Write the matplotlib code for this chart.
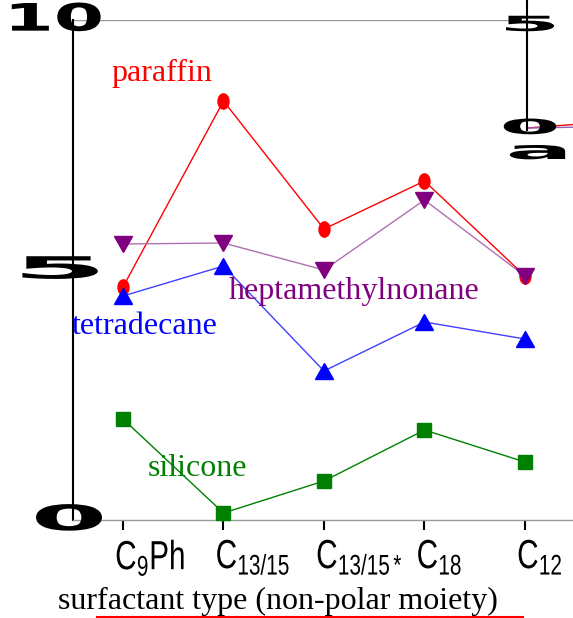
import matplotlib
matplotlib.use("Agg")
import matplotlib.pyplot as plt
from matplotlib.patheffects import AbstractPathEffect
from matplotlib.transforms import Affine2D, ScaledTranslation, blended_transform_factory
from matplotlib.markers import MarkerStyle
from matplotlib.lines import Line2D

plt.rcParams['mathtext.fontset'] = 'custom'
plt.rcParams['mathtext.rm'] = 'Liberation Sans'
plt.rcParams['mathtext.it'] = 'Liberation Sans'
plt.rcParams['mathtext.default'] = 'rm'

# ---- data ----
categories = ["C$_9$Ph", "C$_{13/15}$", "C$_{13/15*}$", "C$_{18}$", "C$_{12}$"]
paraffin = [4.66, 8.38, 5.82, 6.78, 4.88]
heptamethylnonane = [5.52, 5.54, 5.00, 6.40, 4.88]
tetradecane = [4.48, 5.08, 2.98, 3.96, 3.62]
silicone = [2.02, 0.14, 0.78, 1.80, 1.16]
yticks = [0, 5, 10]
ytick_labels = ["0", "5", "10"]
inset_ticks = [0, 5]
inset_labels = ["0", "5"]
inset_x = [0, 1]
inset_red = [0.0, 0.22]
inset_purple = [0.0, 0.05]


class Stretch(AbstractPathEffect):
    """Draw the text path stretched about its centre (or its top-left)."""
    def __init__(self, sx, sy=1.0, anchor='center'):
        super().__init__()
        self.sx, self.sy, self.anchor = sx, sy, anchor

    def draw_path(self, renderer, gc, tpath, affine, rgbFace=None):
        bb = tpath.get_extents(affine)
        cx = bb.x0 if self.anchor == 'left' else (bb.x0 + bb.x1) / 2
        cy = bb.y1 if self.anchor == 'left' else (bb.y0 + bb.y1) / 2
        aff = affine + Affine2D().translate(-cx, -cy).scale(self.sx, self.sy).translate(cx, cy)
        renderer.draw_path(gc, tpath, aff, rgbFace)


W, H = 573, 618
fig = plt.figure(figsize=(W / 100, H / 100), dpi=100)
ax = fig.add_axes([73 / W, (H - 520) / H, 500 / W, 500 / H])
x = list(range(len(categories)))
ax.set_xlim(-0.4975, 4.478)
ax.set_ylim(0, 10)

serif = 'Liberation Serif'

# series
ax.plot(x, paraffin, '-', color='#ff0000', lw=1.0, zorder=3, clip_on=False)
ax.plot(x, paraffin, ls='none', marker=MarkerStyle('o', transform=Affine2D().scale(0.72, 1.0)),
        ms=11, color='#ff0000', mec='#ff0000', zorder=4, clip_on=False)
ax.plot(x, heptamethylnonane, '-', color='#b070b0', lw=1.0, zorder=3, clip_on=False)
ax.plot(x, heptamethylnonane, ls='none', marker=MarkerStyle('v', transform=Affine2D().scale(1.0, 0.85)),
        ms=13, color='#800080', zorder=4, clip_on=False)
ax.plot(x, tetradecane, '-', color='#4040ff', lw=1.0, zorder=3, clip_on=False)
ax.plot(x, tetradecane, ls='none', marker=MarkerStyle('^', transform=Affine2D().scale(1.0, 0.85)),
        ms=13, color='#0000ff', zorder=4, clip_on=False)
ax.plot(x, silicone, '-', color='#008000', lw=1.0, zorder=3, clip_on=False)
ax.plot(x, silicone, ls='none', marker='s', ms=10.5, color='#008000', zorder=4, clip_on=False)

# series labels
ax.text(0.39, 8.94, 'paraffin', color='#ff0000', fontsize=23, family=serif, ha='center', va='center')
ax.text(2.30, 4.58, 'heptamethylnonane', color='#800080', fontsize=23, family=serif, ha='center', va='center')
ax.text(0.22, 3.86, 'tetradecane', color='#0000ff', fontsize=23, family=serif, ha='center', va='center')
ax.text(0.74, 1.04, 'silicone', color='#008000', fontsize=23, family=serif, ha='center', va='center')

# spines
for s in ['top', 'right']:
    ax.spines[s].set_visible(False)
ax.spines['left'].set_color('black')
ax.spines['left'].set_linewidth(1.5)
ax.spines['bottom'].set_color('#999999')
ax.spines['bottom'].set_linewidth(1.0)
ax.axhline(10, xmin=0, xmax=(527 - 73) / 500, color='#999999', lw=1.0, zorder=1)

# x ticks (narrowed sans labels)
ax.set_xticks(x)
ax.set_xticklabels(categories, family='Liberation Sans', fontsize=24)
ax.tick_params(axis='x', direction='out', length=7, width=1.5, color='black', pad=6)
for lab in ax.get_xticklabels():
    lab.set_ha('left')
    lab.set_transform(lab.get_transform() + ScaledTranslation(-8 / 100, 0, fig.dpi_scale_trans))
    lab.set_path_effects([Stretch(0.89, 1.22, anchor='left')])

# y ticks: stretched bold labels
ax.set_yticks([])
ytrans = blended_transform_factory(fig.transFigure, ax.transData)
ylab_x = [69, 60, 55]
ylab_fs = [22, 22, 26]
ylab_sx = [3.6, 4.5, 2.0]
ylab_sy = [1.15, 1.0, 1.05]
for v, lab, px, fs, sx, sy in zip(yticks, ytick_labels, ylab_x, ylab_fs, ylab_sx, ylab_sy):
    ax.text(px / W, v, lab, transform=ytrans, ha='center', va='center', fontsize=fs,
            fontweight='bold', family='DejaVu Sans', color='black', zorder=5,
            path_effects=[Stretch(sx, sy)])

# x axis label
fig.text(278 / W, 1 - 601 / H, 'surfactant type (non-polar moiety)', family=serif, fontsize=23,
         ha='center', va='center')
fig.add_artist(Line2D([97 / W, 523 / W], [1.2 / H, 1.2 / H], color='#ff0000', lw=1.5))

# cut-off inset on the right
ax2 = fig.add_axes([527 / W, (H - 130) / H, 60 / W, 130 / H])
ax2.set_xlim(0, 46 / 60)
ax2.set_ylim(-0.097, 6.21)
for s in ['top', 'right', 'bottom']:
    ax2.spines[s].set_visible(False)
ax2.spines['left'].set_linewidth(1.5)
ax2.set_xticks([])
ax2.set_yticks([])
ax2.patch.set_alpha(0)
ax2.plot([v * 46 / 60 for v in inset_x], inset_red, color='#ff0000', lw=1.0, clip_on=False)
ax2.plot([v * 46 / 60 for v in inset_x], inset_purple, color='#9060c0', lw=1.0, clip_on=False)
itrans = blended_transform_factory(fig.transFigure, ax2.transData)
for v, lab in zip(inset_ticks, inset_labels):
    ax2.text(530 / W, v, lab, transform=itrans, ha='center', va='center', fontsize=15,
             fontweight='bold', family='DejaVu Sans', color='black', zorder=5,
             path_effects=[Stretch(4.2, 1.0)])
fig.text(538 / W, 1 - 152 / H, 'a', ha='center', va='center', fontsize=18, fontweight='bold',
         family='DejaVu Sans', color='black', path_effects=[Stretch(4.0, 1.0)])

fig.savefig('out.png', dpi=100)
